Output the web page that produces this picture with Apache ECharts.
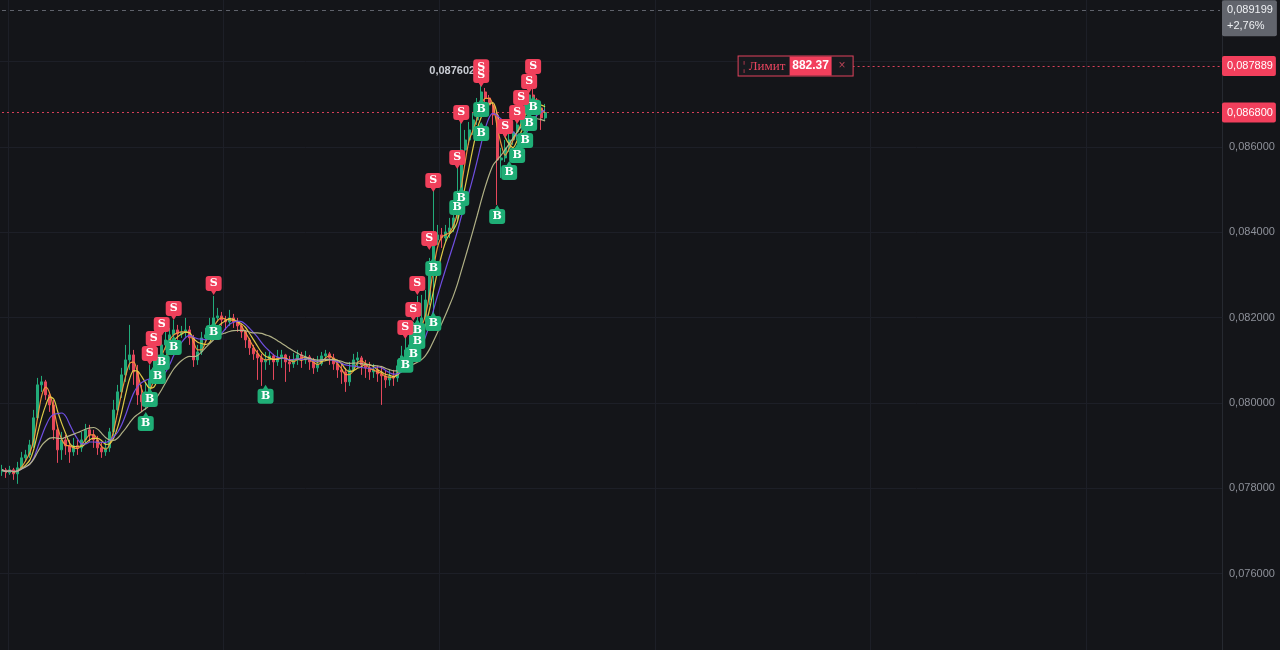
<!DOCTYPE html>
<html>
<head>
<meta charset="utf-8">
<script src="https://cdn.jsdelivr.net/npm/echarts@6/dist/echarts.min.js"></script>
<style>
html,body{margin:0;padding:0;background:#141519;width:1280px;height:650px;overflow:hidden;position:relative;}
#chart{position:absolute;left:0;top:-24px;width:1280px;height:683px;}
</style>
</head>
<body>
<div id="chart"></div>
<script>
// ---- data ----
const slotCount = 306;            // candle slots across the plot (incl. empty future space)
const firstOpen = 0.078384;
const closes = [
0.078431,0.078361,0.078431,0.078337,0.078478,0.078712,0.078782,0.079016,0.079649,0.080422,
0.080492,0.080187,0.079953,0.079368,0.078899,0.079133,0.078993,0.078852,0.078993,0.078946,
0.079133,0.079368,0.079251,0.079133,0.078946,0.078852,0.078946,0.079321,0.079836,0.080258,
0.080656,0.081007,0.081124,0.080726,0.080187,0.080023,0.080258,0.080539,0.080820,0.081124,
0.081358,0.081475,0.081593,0.081710,0.081616,0.081663,0.081710,0.081522,0.081007,0.081194,
0.081522,0.081593,0.081756,0.081991,0.082038,0.081944,0.081897,0.081991,0.081897,0.081803,
0.081663,0.081475,0.081288,0.081148,0.081054,0.080960,0.081007,0.081101,0.080960,0.081054,
0.081124,0.080960,0.080913,0.081007,0.081124,0.081007,0.081077,0.080960,0.080820,0.080913,
0.081101,0.081148,0.081054,0.080913,0.080773,0.080726,0.080492,0.080773,0.081007,0.081054,
0.080890,0.080820,0.080726,0.080773,0.080679,0.080632,0.080539,0.080632,0.080585,0.080867,
0.081101,0.081241,0.081358,0.081593,0.081710,0.081991,0.082412,0.083115,0.083817,0.083935,
0.083864,0.084005,0.084098,0.084333,0.084871,0.085925,0.086159,0.086394,0.086628,0.086979,
0.087284,0.087143,0.086979,0.086745,0.085691,0.085738,0.085972,0.086159,0.086347,0.086511,
0.086745,0.086979,0.087213,0.087096,0.086909,0.086675,0.086800];
const highs = [
0.078548,0.078478,0.078525,0.078478,0.078618,0.078852,0.078899,0.079133,0.079836,0.080585,
0.080632,0.080539,0.080258,0.080070,0.079485,0.079321,0.079251,0.079133,0.079180,0.079133,
0.079321,0.079508,0.079485,0.079368,0.079227,0.079087,0.079133,0.079414,0.080070,0.080422,
0.080820,0.081358,0.081827,0.081241,0.080890,0.080422,0.080492,0.080890,0.081241,0.081288,
0.081569,0.081756,0.081756,0.081944,0.081827,0.081803,0.081991,0.081803,0.081593,0.081358,
0.081663,0.081756,0.081991,0.082506,0.082225,0.082131,0.082038,0.082178,0.082084,0.081991,
0.081850,0.081710,0.081522,0.081358,0.081241,0.081148,0.081194,0.081194,0.081148,0.081241,
0.081241,0.081148,0.081101,0.081171,0.081241,0.081194,0.081218,0.081124,0.081054,0.081101,
0.081194,0.081241,0.081194,0.081148,0.081007,0.080913,0.080820,0.080960,0.081148,0.081194,
0.081101,0.081007,0.080960,0.080913,0.080867,0.080867,0.080773,0.080773,0.080773,0.081007,
0.081335,0.081522,0.081593,0.081897,0.082506,0.082529,0.082646,0.083396,0.084988,0.084169,
0.084098,0.084169,0.084333,0.084567,0.085574,0.086581,0.086394,0.086581,0.086815,0.087143,
0.087602,0.087377,0.087213,0.087049,0.086815,0.085972,0.086159,0.086394,0.086534,0.086745,
0.086979,0.087190,0.087565,0.087377,0.087143,0.086979,0.087003];
const lows = [
0.078290,0.078243,0.078314,0.078197,0.078103,0.078431,0.078618,0.078712,0.078946,0.079602,
0.080258,0.080070,0.079789,0.079133,0.078595,0.078665,0.078782,0.078595,0.078759,0.078782,
0.078852,0.079040,0.079087,0.078946,0.078782,0.078712,0.078759,0.078852,0.079227,0.079719,
0.080117,0.080492,0.080773,0.080422,0.079953,0.079789,0.079836,0.080258,0.080445,0.080773,
0.081054,0.081241,0.081358,0.081475,0.081475,0.081522,0.081546,0.081358,0.080843,0.080890,
0.081124,0.081429,0.081522,0.081850,0.081897,0.081803,0.081710,0.081803,0.081756,0.081663,
0.081522,0.081288,0.081124,0.081007,0.080539,0.080398,0.080773,0.080890,0.080539,0.080867,
0.080820,0.080492,0.080726,0.080820,0.080890,0.080820,0.080913,0.080773,0.080679,0.080726,
0.080867,0.081007,0.080890,0.080773,0.080585,0.080445,0.080258,0.080398,0.080726,0.080820,
0.080656,0.080585,0.080539,0.080585,0.080492,0.079953,0.080351,0.080398,0.080398,0.080492,
0.080820,0.081101,0.081124,0.081358,0.081522,0.081710,0.081897,0.082295,0.081991,0.083700,
0.083630,0.083771,0.083864,0.084005,0.084286,0.084754,0.085644,0.086042,0.086277,0.086511,
0.086909,0.086956,0.086815,0.086511,0.084637,0.085269,0.085644,0.085878,0.086042,0.086159,
0.086440,0.086675,0.086909,0.086815,0.086511,0.086394,0.086628];
// each candle opens at the previous close
const opens = [firstOpen].concat(closes.slice(0, -1));

const sellIdx   = [37,38,40,43,53,101,103,104,107,108,114,115,120,120,126,129,130,132,133];
const sellPrice = [0.080890,0.081241,0.081569,0.081944,0.082529,0.081499,0.081920,0.082529,0.083583,0.084942,
                   0.085480,0.086534,0.087401,0.087602,0.086206,0.086534,0.086885,0.087260,0.087611];
const buyIdx    = [36,37,39,40,43,53,66,101,103,104,104,108,108,114,115,120,120,124,127,129,131,132,133];
const buyPrice  = [0.079789,0.080351,0.080890,0.081218,0.081569,0.081920,0.080422,0.081148,0.081405,0.081710,
                   0.081967,0.082131,0.083419,0.084848,0.085059,0.086581,0.087143,0.084637,0.085668,0.086066,
                   0.086417,0.086815,0.087190];

const yTicks = [0.074, 0.090, 0.002];   // min, max, step of the price scale
const refHigh = 0.089199, refChange = '+2,76%';
const limitPrice = 0.087889, limitQty = '882.37', limitLabel = 'Лимит';
const maPeriods = [3, 5, 8, 16];
const maColors = ['#f39a3c', '#e8d44a', '#7452ec', '#b9b98c'];

// ---- build ----
const categories = Array.from({length: slotCount}, (_, i) => String(i));
const lastClose = closes[closes.length - 1];
const lastSlot = slotCount - 1;
const fmt = v => v.toFixed(6).replace('.', ',');
const candleData = closes.map((c, i) => [opens[i], c, lows[i], highs[i]]);

function ma(period) {
  return closes.map((_, i) => {
    const s = Math.max(0, i - period + 1);
    let sum = 0;
    for (let k = s; k <= i; k++) sum += closes[k];
    return +(sum / (i - s + 1)).toFixed(7);
  });
}

const sellPath = 'path://M3,0 L13,0 Q16,0 16,3 L16,12 Q16,15 13,15 L10.5,15 L8,19 L5.5,15 L3,15 Q0,15 0,12 L0,3 Q0,0 3,0 Z';
const buyPath  = 'path://M8,0 L10.5,4 L13,4 Q16,4 16,7 L16,16 Q16,19 13,19 L3,19 Q0,19 0,16 L0,7 Q0,4 3,4 L5.5,4 Z';

const chart = echarts.init(document.getElementById('chart'), null, {renderer: 'canvas'});

const redDot = {color: '#d8405a', type: [2, 3], width: 1};
const grayDash = {color: '#60636c', type: [4, 4], width: 1};
const maSeries = maPeriods.map((p, k) => ({
  type: 'line', data: ma(p), symbol: 'none', smooth: 0.3, silent: true, z: 3,
  lineStyle: {color: maColors[k], width: 1.2, opacity: 0.95}
}));
// horizontal price lines live on the first line series
maSeries[0].markLine = {
  silent: true, symbol: 'none', animation: false, label: {show: false},
  data: [
    [{coord: [0, refHigh], lineStyle: grayDash}, {coord: [lastSlot, refHigh]}],
    [{coord: [0, lastClose], lineStyle: redDot}, {coord: [lastSlot, lastClose]}],
    [{coord: [213, limitPrice], lineStyle: redDot}, {coord: [lastSlot, limitPrice]}]
  ]
};

const boxLabel = {show: true, position: 'right', distance: 0, backgroundColor: '#f23f5c', color: '#ffffff',
                  fontSize: 11, lineHeight: 14, padding: [3, 3, 3, 5], borderRadius: 2};

const option = {
  backgroundColor: '#141519',
  animation: false,
  textStyle: {fontFamily: 'Liberation Sans, Arial, sans-serif'},
  grid: {left: 0, right: 58, top: 0, bottom: 0, containLabel: false},
  xAxis: {
    type: 'category', data: categories, boundaryGap: true,
    axisLine: {show: false}, axisTick: {show: false}, axisLabel: {show: false},
    splitLine: {show: true, interval: (i) => (i - 2) % 54 === 0, lineStyle: {color: '#1d1f27', width: 1}}
  },
  yAxis: {
    type: 'value', position: 'right',
    min: yTicks[0], max: yTicks[1], interval: yTicks[2],
    axisLine: {show: true, lineStyle: {color: '#262930'}},
    axisTick: {show: false},
    splitLine: {show: true, lineStyle: {color: '#1d1f27', width: 1}},
    axisLabel: {
      color: '#8e919a', fontSize: 11, margin: 7,
      formatter: v => (v > 0.0875 || v < 0.0745) ? '' : fmt(v)
    }
  },
  series: [
    {
      type: 'candlestick', data: candleData, barWidth: '62%', z: 2,
      itemStyle: {color: '#22ab7a', color0: '#e5485c', borderColor: '#22ab7a', borderColor0: '#e5485c', borderWidth: 1},
      markPoint: {
        silent: true, animation: false, symbol: 'circle', symbolSize: 0,
        data: [
          {type: 'max', valueDim: 'highest',
           label: {show: true, position: 'left', distance: 6, offset: [0, -7],
                   formatter: p => fmt(p.value), color: '#c9ccd3', fontSize: 11, fontWeight: 'bold'}},
          {coord: [lastSlot, refHigh], x: 1222,
           label: {show: true, position: 'right', distance: 0, offset: [0, 8],
                   formatter: fmt(refHigh) + '\n' + refChange, backgroundColor: '#62656d',
                   color: '#eef0f3', fontSize: 11, lineHeight: 16, padding: [2, 4, 2, 5], borderRadius: 2, align: 'left'}},
          {coord: [lastSlot, limitPrice], x: 1222, label: Object.assign({formatter: fmt(limitPrice)}, boxLabel)},
          {coord: [lastSlot, lastClose], x: 1222, label: Object.assign({formatter: fmt(lastClose)}, boxLabel)},
          {coord: [213, limitPrice],
           label: {show: true, position: 'left', distance: 0,
                   formatter: '{a|¦ ' + limitLabel + '}{b|' + limitQty + '}{c|×}',
                   borderColor: '#e0435c', borderWidth: 1, backgroundColor: '#18191e', padding: 0,
                   rich: {
                     a: {color: '#e8455f', fontFamily: 'Liberation Serif, serif', fontSize: 13, width: 51, height: 19, lineHeight: 19, align: 'center'},
                     b: {color: '#ffffff', backgroundColor: '#f23f5c', fontFamily: 'Liberation Sans, Arial', fontWeight: 'bold', fontSize: 12, width: 42, height: 19, lineHeight: 19, align: 'center'},
                     c: {color: '#b84356', fontSize: 12, width: 21, height: 19, lineHeight: 19, align: 'center'}
                   }}}
        ]
      }
    },
    ...maSeries,
    {
      type: 'scatter', z: 5, silent: true,
      data: buyIdx.map((x, i) => [x, buyPrice[i]]),
      symbol: buyPath, symbolSize: [16, 19], symbolOffset: [0, 9.5],
      itemStyle: {color: '#1fae76', opacity: 1},
      label: {show: true, position: 'inside', offset: [0, 2], formatter: 'B', color: '#ffffff',
              fontFamily: 'DejaVu Serif, serif', fontWeight: 'bold', fontSize: 11}
    },
    {
      type: 'scatter', z: 6, silent: true,
      data: sellIdx.map((x, i) => [x, sellPrice[i]]),
      symbol: sellPath, symbolSize: [16, 19], symbolOffset: [0, -9.5],
      itemStyle: {color: '#f0405b', opacity: 1},
      label: {show: true, position: 'inside', offset: [0, -2], formatter: 'S', color: '#ffffff',
              fontFamily: 'DejaVu Serif, serif', fontWeight: 'bold', fontSize: 11}
    }
  ]
};
chart.setOption(option);
</script>
</body>
</html>
